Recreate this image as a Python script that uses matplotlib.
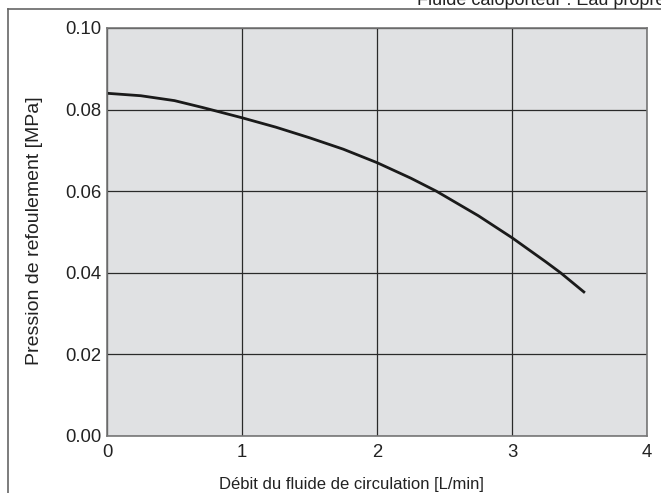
import matplotlib
matplotlib.use("Agg")
import matplotlib.pyplot as plt
from matplotlib.lines import Line2D

flow = [0.0, 0.25, 0.5, 0.71, 1.0, 1.25, 1.5, 1.75, 2.0, 2.25, 2.44, 2.75, 3.0, 3.25, 3.36, 3.54]
pressure = [0.0840, 0.0834, 0.0822, 0.0805, 0.0780, 0.0757, 0.0731, 0.0703, 0.0670, 0.0632, 0.0600, 0.0540, 0.0486, 0.0427, 0.0400, 0.0351]
xticks = [0, 1, 2, 3, 4]
yticks = [0.00, 0.02, 0.04, 0.06, 0.08, 0.10]

plt.rcParams['font.family'] = ['Liberation Sans', 'DejaVu Sans']

W, H = 661, 493
fig = plt.figure(figsize=(W/100, H/100), dpi=100)
ax = fig.add_axes([107/W, 1-436/H, (647-107)/W, (436-28)/H])
ax.set_facecolor('#e0e1e3')
ax.set_xlim(0, 4)
ax.set_ylim(0, 0.10)
ax.set_xticks(xticks)
ax.set_yticks(yticks)
ax.set_xticklabels([str(t) for t in xticks])
ax.set_yticklabels([f"{t:.2f}" for t in yticks])
ax.tick_params(length=0, labelsize=13.3, colors='#222222', pad=4)
ax.tick_params(axis='x', pad=6)
ax.grid(True, color='#2a2a2a', linewidth=0.9)
ax.set_axisbelow(True)
for s in ax.spines.values():
    s.set_color('#777777')
    s.set_linewidth(1.2)
ax.plot(flow, pressure, color='#1a1a1a', linewidth=2.0, solid_capstyle='butt')
ax.set_xlabel('Débit du fluide de circulation [L/min]', fontsize=12, color='#222222')
ax.xaxis.set_label_coords((219-107)/540, -(489-436)/408, transform=ax.transAxes)
ax.xaxis.label.set_va('baseline')
ax.xaxis.label.set_ha('left')
ax.set_ylabel('Pression de refoulement [MPa]', fontsize=14, color='#222222')
ax.yaxis.set_label_coords(-(107-35)/540, (436-231)/408, transform=ax.transAxes)
ax.yaxis.label.set_va('center')

# outer frame
fig.add_artist(Line2D([8/W, 1], [1-9/H, 1-9/H], color='#666666', linewidth=1.2, transform=fig.transFigure))
fig.add_artist(Line2D([8/W, 8/W], [0, 1-9/H], color='#666666', linewidth=1.2, transform=fig.transFigure))
fig.text(417/W, 1-5/H, 'Fluide caloporteur : Eau propre', fontsize=13, color='#222222', ha='left', va='baseline')

fig.savefig('out.png', dpi=100)
